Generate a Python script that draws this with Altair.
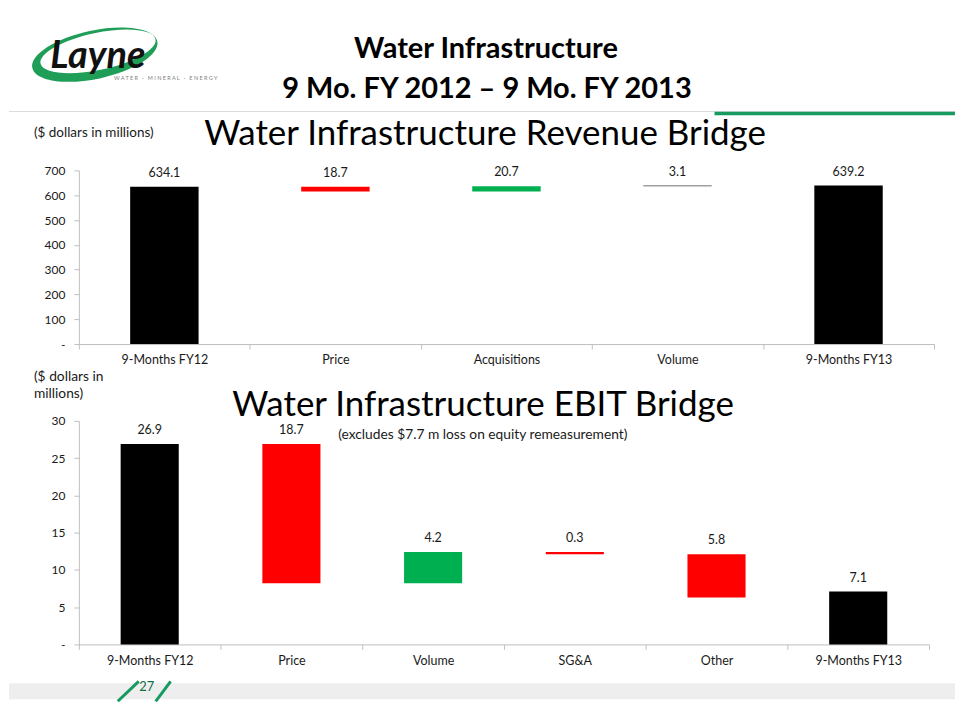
import altair as alt
import pandas as pd

# ---------------- data ----------------
rev_cats = ["9-Months FY12", "Price", "Acquisitions", "Volume", "9-Months FY13"]
rev_vals = [634.1, -18.7, 20.7, 3.1, 639.2]
rev_kinds = ["total", "decrease", "increase", "flat", "total"]
rev_ticks = [0, 100, 200, 300, 400, 500, 600, 700]

ebit_cats = ["9-Months FY12", "Price", "Volume", "SG&A", "Other", "9-Months FY13"]
ebit_vals = [26.9, -18.7, 4.2, -0.3, -5.8, 7.1]
ebit_kinds = ["total", "decrease", "increase", "decrease", "decrease", "total"]
ebit_ticks = [0, 5, 10, 15, 20, 25, 30]

KIND_DOMAIN = ["total", "decrease", "increase", "flat"]
KIND_RANGE = ["#000000", "#FF0000", "#00B050", "#404040"]
GREEN = "#179a5f"
FONT = "Lato"
NB = "\u00a0"


def waterfall(cats, vals, kinds):
    rows = []
    run = 0.0
    for c, v, k in zip(cats, vals, kinds):
        if k == "total":
            lo, hi = 0.0, v
            run = v
        else:
            lo, hi = sorted([run, run + v])
            run = run + v
        rows.append({"cat": c, "lo": lo, "hi": hi, "kind": k, "lab": abs(v)})
    return pd.DataFrame(rows)


rev_df = waterfall(rev_cats, rev_vals, rev_kinds)
ebit_df = waterfall(ebit_cats, ebit_vals, ebit_kinds)
one = pd.DataFrame({"k": [0]})


def txt(s, x, y, size, weight="normal", align="center", color="#000000", style="normal", baseline="middle"):
    return alt.Chart(one).mark_text(
        text=s, fontSize=size, fontWeight=weight, align=align, baseline=baseline,
        color=color, font=FONT, fontStyle=style
    ).encode(x=alt.value(x), y=alt.value(y))


def rule(x, x2, y, y2, color, w):
    return alt.Chart(one).mark_rule(color=color, strokeWidth=w).encode(
        x=alt.value(x), x2=alt.value(x2), y=alt.value(y), y2=alt.value(y2)
    )


def bridge(df, cats, domain, ticks, band):
    xaxis = alt.Axis(
        labelAngle=0, tickBand="extent", domainColor="#bfbfbf", tickColor="#bfbfbf",
        tickSize=5, labelPadding=5, labelFontSize=12.5, labelColor="#1a1a1a",
        labelFont=FONT, grid=False, title=None,
    )
    yaxis = alt.Axis(
        values=ticks, labelExpr="datum.value == 0 ? '-' : datum.label",
        domainColor="#bfbfbf", tickColor="#bfbfbf", tickSize=5, labelPadding=9,
        labelFontSize=12, labelColor="#1a1a1a", labelFont=FONT, grid=False, title=None,
    )
    xs = alt.Scale(paddingInner=0, paddingOuter=0)
    ys = alt.Scale(domain=domain, nice=False, zero=True)
    bars = alt.Chart(df).mark_bar(width=alt.RelativeBandSize(band)).encode(
        x=alt.X("cat:N", sort=cats, scale=xs, axis=xaxis),
        y=alt.Y("lo:Q", scale=ys, axis=yaxis),
        y2="hi:Q",
        color=alt.Color("kind:N", scale=alt.Scale(domain=KIND_DOMAIN, range=KIND_RANGE), legend=None),
    )
    labels = alt.Chart(df).mark_text(
        baseline="bottom", dy=-7, fontSize=12.5, font=FONT, color="#1a1a1a"
    ).encode(
        x=alt.X("cat:N", sort=cats, scale=xs, axis=xaxis),
        y=alt.Y("hi:Q", scale=ys, axis=yaxis),
        text=alt.Text("lab:Q", format=".1f"),
    )
    return alt.layer(bars, labels)


# ---------------- top panel (origin at page 78,170) ----------------
rev_chart = bridge(rev_df, rev_cats, [0, 700], rev_ticks, 0.4)

# invisible frame that fixes the overall extent of the slide
frame = alt.Chart(one).mark_rect(color="white", opacity=0).encode(
    x=alt.value(-70), x2=alt.value(878), y=alt.value(-162), y2=alt.value(544)
)

logo_path = (
    "M -1 0 A 1 0.38 0 1 0 1 0 A 1 0.38 0 1 0 -1 0 Z "
    "M -0.86 -0.04 A 0.92 0.29 0 1 1 0.98 -0.04 A 0.92 0.29 0 1 1 -0.86 -0.04 Z"
)
logo_ring = alt.Chart(one).mark_point(
    shape=logo_path, size=16384, filled=True, color="#1f9e58", opacity=1, angle=348
).encode(x=alt.value(16), y=alt.value(-116))

tagline = (NB * 3 + "·" + NB * 3).join(
    [NB.join("WATER"), NB.join("MINERAL"), NB.join("ENERGY")]
)

top = alt.layer(
    rev_chart,
    frame,
    logo_ring,
    txt("Layne", 19, -114, 38, weight="bold", style="italic", color="#111111"),
    txt(tagline, 87, -93, 5.5, color="#808080"),
    txt("Water Infrastructure", 408, -122, 29, weight="bold"),
    txt("9 Mo. FY 2012 \u2013 9 Mo. FY 2013", 409, -82, 29, weight="bold"),
    rule(-70, 878, -59, -59, "#dcdcdc", 1),
    rule(637, 878, -57, -57, GREEN, 3.5),
    txt("($ dollars in millions)", -45, -37, 13.5, align="left", color="#1a1a1a"),
    txt("Water Infrastructure Revenue Bridge", 407, -36, 35),
).properties(width=857, height=174)

# ---------------- bottom panel (origin at page 78,421) ----------------
ebit_chart = bridge(ebit_df, ebit_cats, [0, 30], ebit_ticks, 0.41)

band_rect = alt.Chart(one).mark_rect(color="#eeeeee").encode(
    x=alt.value(-70), x2=alt.value(878), y=alt.value(263), y2=alt.value(279)
)

bottom = alt.layer(
    ebit_chart,
    band_rect,
    rule(39, 60, 281, 261, GREEN, 3),
    rule(77, 92, 281, 261, GREEN, 3),
    txt("27", 68, 267, 13, color="#0f6e43"),
    txt("($ dollars in", -45, -44, 13.8, align="left", color="#1a1a1a"),
    txt("millions)", -45, -27, 13.8, align="left", color="#1a1a1a"),
    txt("Water Infrastructure EBIT Bridge", 405, -16, 35),
    txt("(excludes $7.7 m loss on equity remeasurement)", 260, 14, 13.8, align="left", color="#1a1a1a"),
).properties(width=852, height=224)

chart = (
    alt.vconcat(top, bottom, spacing=77, bounds="flush")
    .properties(padding=0)
    .configure(font=FONT, view=alt.ViewConfig(stroke=None))
)

chart.save("out.html", embed_options={"renderer": "svg", "actions": False})
